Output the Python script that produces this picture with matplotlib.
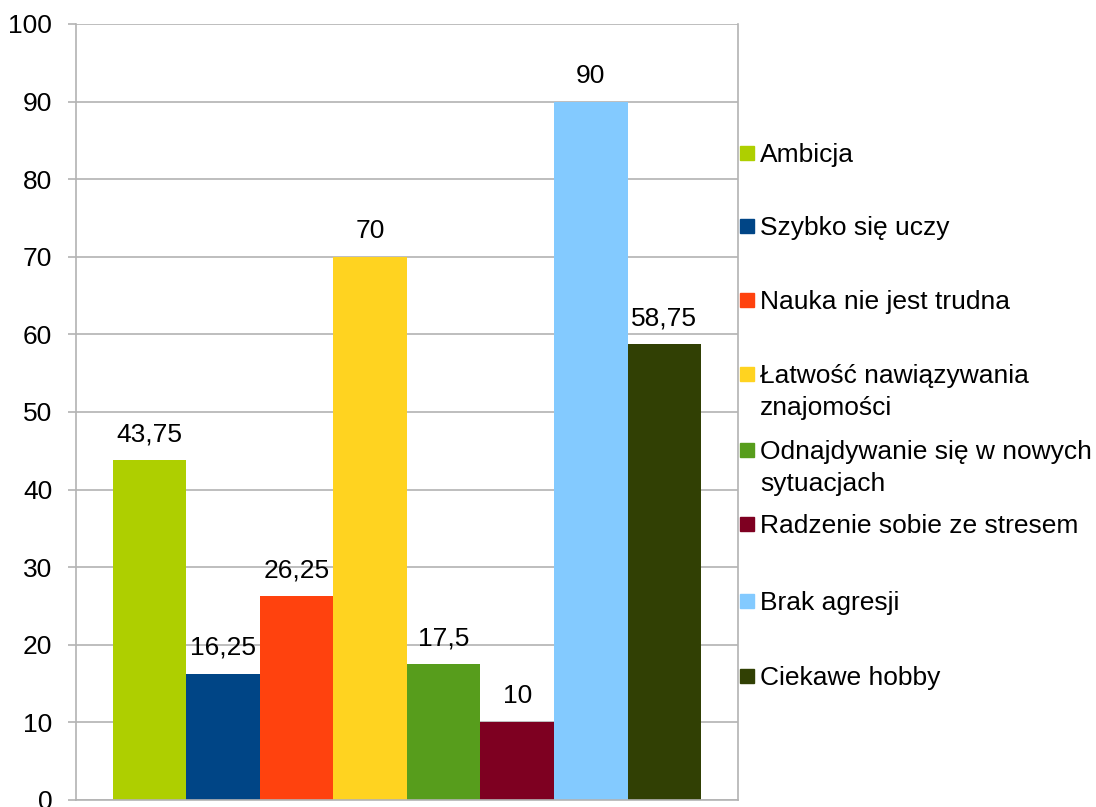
import matplotlib.pyplot as plt
from matplotlib.patches import Rectangle

# data
categories = ["Ambicja", "Szybko się uczy", "Nauka nie jest trudna",
              "Łatwość nawiązywania\nznajomości",
              "Odnajdywanie się w nowych\nsytuacjach",
              "Radzenie sobie ze stresem", "Brak agresji", "Ciekawe hobby"]
values = [43.75, 16.25, 26.25, 70, 17.5, 10, 90, 58.75]
value_labels = ["43,75", "16,25", "26,25", "70", "17,5", "10", "90", "58,75"]
colors = ["#aecf00", "#004586", "#ff420e", "#ffd320",
          "#579d1c", "#7e0021", "#83caff", "#314004"]
yticks = list(range(0, 101, 10))

plt.rcParams['font.family'] = ['Liberation Sans', 'DejaVu Sans']

fig = plt.figure(figsize=(10.96, 8.07), dpi=100)
ax = fig.add_axes([0.0693, 0.0087, 0.604, 0.9616])

grid_c = "#b3b3b3"
for i, (v, c, lab) in enumerate(zip(values, colors, value_labels)):
    ax.bar(i, v, width=1.0, color=c, zorder=2)
    ax.annotate(lab, (i, v), xytext=(0, 10), textcoords="offset points",
                ha="center", va="bottom", fontsize=19)

ax.set_xlim(-1, 8)
ax.set_ylim(0, 100)
ax.set_yticks(yticks)
ax.set_xticks([])
ax.yaxis.grid(True, color=grid_c, linewidth=1.2, zorder=0)
ax.set_axisbelow(True)
ax.tick_params(axis='y', length=6, width=1.2, color=grid_c, pad=11, labelsize=19)
for s in ["left", "right", "bottom"]:
    ax.spines[s].set_color(grid_c)
    ax.spines[s].set_linewidth(1.2)
ax.spines["top"].set_visible(False)

# legend drawn by hand so every entry keeps the same pitch
leg_y = [152, 225, 299, 373, 449, 523, 600, 675]
W, H = 1096, 807
for y, c, name in zip(leg_y, colors, categories):
    fig.patches.append(Rectangle((740 / W, 1 - (y + 8) / H), 14 / W, 14 / H,
                                 transform=fig.transFigure, color=c))
    fig.text(760 / W, 1 - (y - 9) / H, name, fontsize=19, va="top",
             ha="left", linespacing=1.42)

fig.savefig("out.png", dpi=100)
